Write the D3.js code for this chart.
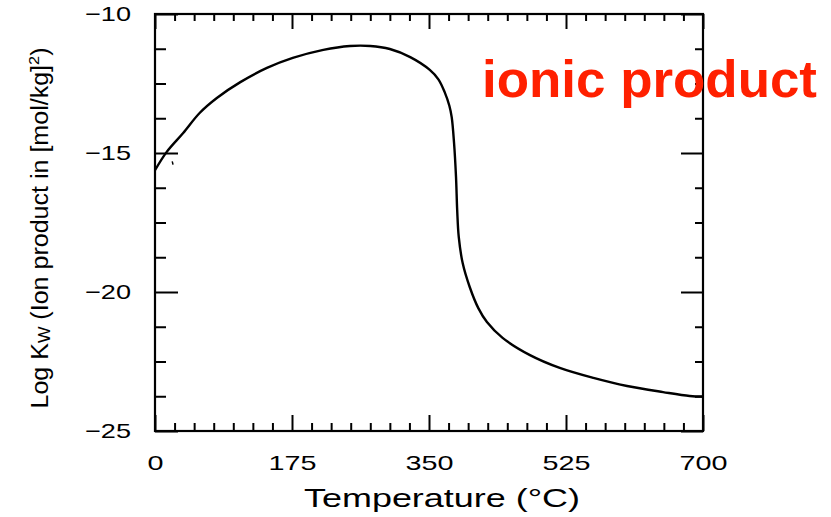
<!DOCTYPE html>
<html>
<head>
<meta charset="utf-8">
<script src="https://cdn.jsdelivr.net/npm/d3@7"></script>
<style>
  body { margin: 0; background: #fff; }
  text { font-family: "Liberation Sans", Arial, Helvetica, sans-serif; fill: #000; }
  .tick text { font-size: 21px; }
</style>
</head>
<body>
<div id="chart"></div>
<script>
var svgWidth = 831;
var svgHeight = 517;

// frame of the plot
var margin = { top: 14, right: 128, bottom: 86, left: 155 };
var width = svgWidth - margin.left - margin.right;
var height = svgHeight - margin.top - margin.bottom;

// curve: temperature (°C) and log Kw
var temperature = [0, 15, 36, 57, 79, 109, 143, 176, 215, 249, 275, 300, 326, 351, 362, 370,
  376, 379, 382, 384.5, 386, 388, 393, 402, 413, 424, 444, 479, 517, 560, 603, 649, 683, 700];
var logKw = [-15.62, -14.96, -14.28, -13.56, -13.02, -12.45, -11.94, -11.58, -11.29, -11.15, -11.15,
  -11.26, -11.55, -12.01, -12.35, -12.81, -13.3, -13.71, -14.64, -15.86, -17.05, -18.02, -18.96,
  -19.82, -20.58, -21.08, -21.65, -22.27, -22.73, -23.09, -23.38, -23.60, -23.74, -23.76];

var xLabels = [0, 175, 350, 525, 700];
var yLabels = [-10, -15, -20, -25];
var xMinor = d3.range(0, 701, 25);
var yMinor = d3.range(-25, -9.99, 1.25);

var svg = d3.select("#chart")
  .append("svg")
  .attr("width", svgWidth)
  .attr("height", svgHeight);

var chartGroup = svg.append("g")
  .attr("transform", `translate(${margin.left}, ${margin.top})`);

var xLinearScale = d3.scaleLinear().domain([0, 700]).range([0, width]);
var yLinearScale = d3.scaleLinear().domain([-25, -10]).range([height, 0]);

function isMajorX(d) { return d % 175 === 0; }
function isMajorY(d) { return d % 5 === 0; }

// tick marks, all pointing into the plot
var bottomTicks = chartGroup.append("g")
  .attr("transform", `translate(0, ${height})`)
  .call(d3.axisBottom(xLinearScale).tickValues(xMinor).tickFormat("").tickSizeOuter(0));
bottomTicks.selectAll(".tick line").attr("y2", d => isMajorX(d) ? -16 : -8);

var topTicks = chartGroup.append("g")
  .call(d3.axisTop(xLinearScale).tickValues(xMinor).tickFormat("").tickSizeOuter(0));
topTicks.selectAll(".tick line").attr("y2", d => isMajorX(d) ? 15 : 7);

var leftTicks = chartGroup.append("g")
  .call(d3.axisLeft(yLinearScale).tickValues(yMinor).tickFormat("").tickSizeOuter(0));
leftTicks.selectAll(".tick line").attr("x2", d => isMajorY(d) ? 23 : 11);

var rightTicks = chartGroup.append("g")
  .attr("transform", `translate(${width}, 0)`)
  .call(d3.axisRight(yLinearScale).tickValues(yMinor).tickFormat("").tickSizeOuter(0));
rightTicks.selectAll(".tick line").attr("x2", d => isMajorY(d) ? -22 : -8);

chartGroup.selectAll(".domain").remove();
chartGroup.selectAll(".tick line").attr("stroke", "#000").attr("stroke-width", 2);

// frame
chartGroup.append("rect")
  .attr("width", width)
  .attr("height", height)
  .attr("fill", "none")
  .attr("stroke", "#000")
  .attr("stroke-width", 2.2);

// tick labels
var xLabelAxis = chartGroup.append("g")
  .attr("transform", `translate(0, ${height})`)
  .call(d3.axisBottom(xLinearScale).tickValues(xLabels).tickSize(0).tickPadding(24));
xLabelAxis.select(".domain").remove();
xLabelAxis.selectAll("text")
  .attr("textLength", d => String(d).length * 16)
  .attr("lengthAdjust", "spacingAndGlyphs");

var yLabelAxis = chartGroup.append("g")
  .call(d3.axisLeft(yLinearScale).tickValues(yLabels).tickSize(0).tickPadding(24)
    .tickFormat(d => "\u2212" + Math.abs(d)));
yLabelAxis.select(".domain").remove();
yLabelAxis.selectAll("text")
  .attr("textLength", 46)
  .attr("lengthAdjust", "spacingAndGlyphs");

// the curve
var line = d3.line()
  .x((d, i) => xLinearScale(temperature[i]))
  .y(d => yLinearScale(d))
  .curve(d3.curveCatmullRom.alpha(0.5));

chartGroup.append("path")
  .datum(logKw)
  .attr("d", line)
  .attr("fill", "none")
  .attr("stroke", "#000")
  .attr("stroke-width", 2.4);

// small stray mark near the left axis
chartGroup.append("line")
  .attr("x1", xLinearScale(22)).attr("y1", yLinearScale(-15.3))
  .attr("x2", xLinearScale(23)).attr("y2", yLinearScale(-15.42))
  .attr("stroke", "#000").attr("stroke-width", 1.5);

// axis titles
svg.append("text")
  .attr("x", 442)
  .attr("y", 507)
  .attr("text-anchor", "middle")
  .attr("font-size", "25px")
  .attr("textLength", 276)
  .attr("lengthAdjust", "spacingAndGlyphs")
  .text("Temperature (\u00B0C)");

var yTitle = svg.append("text")
  .attr("transform", "translate(48, 228) rotate(-90)")
  .attr("text-anchor", "middle")
  .attr("font-size", "23px")
  .attr("textLength", 361)
  .attr("lengthAdjust", "spacingAndGlyphs");
yTitle.append("tspan").text("Log K");
yTitle.append("tspan").attr("font-size", "16px").attr("dy", 2).text("W");
yTitle.append("tspan").attr("dy", -2).text(" (Ion product in [mol/kg]");
yTitle.append("tspan").attr("font-size", "15px").attr("dy", -9).text("2");
yTitle.append("tspan").attr("dy", 9).text(")");

// red annotation
svg.append("text")
  .attr("x", 482)
  .attr("y", 97)
  .attr("font-size", "52px")
  .attr("font-weight", "bold")
  .style("fill", "#ff2000")
  .attr("textLength", 335)
  .attr("lengthAdjust", "spacingAndGlyphs")
  .text("ionic product");
</script>
</body>
</html>
